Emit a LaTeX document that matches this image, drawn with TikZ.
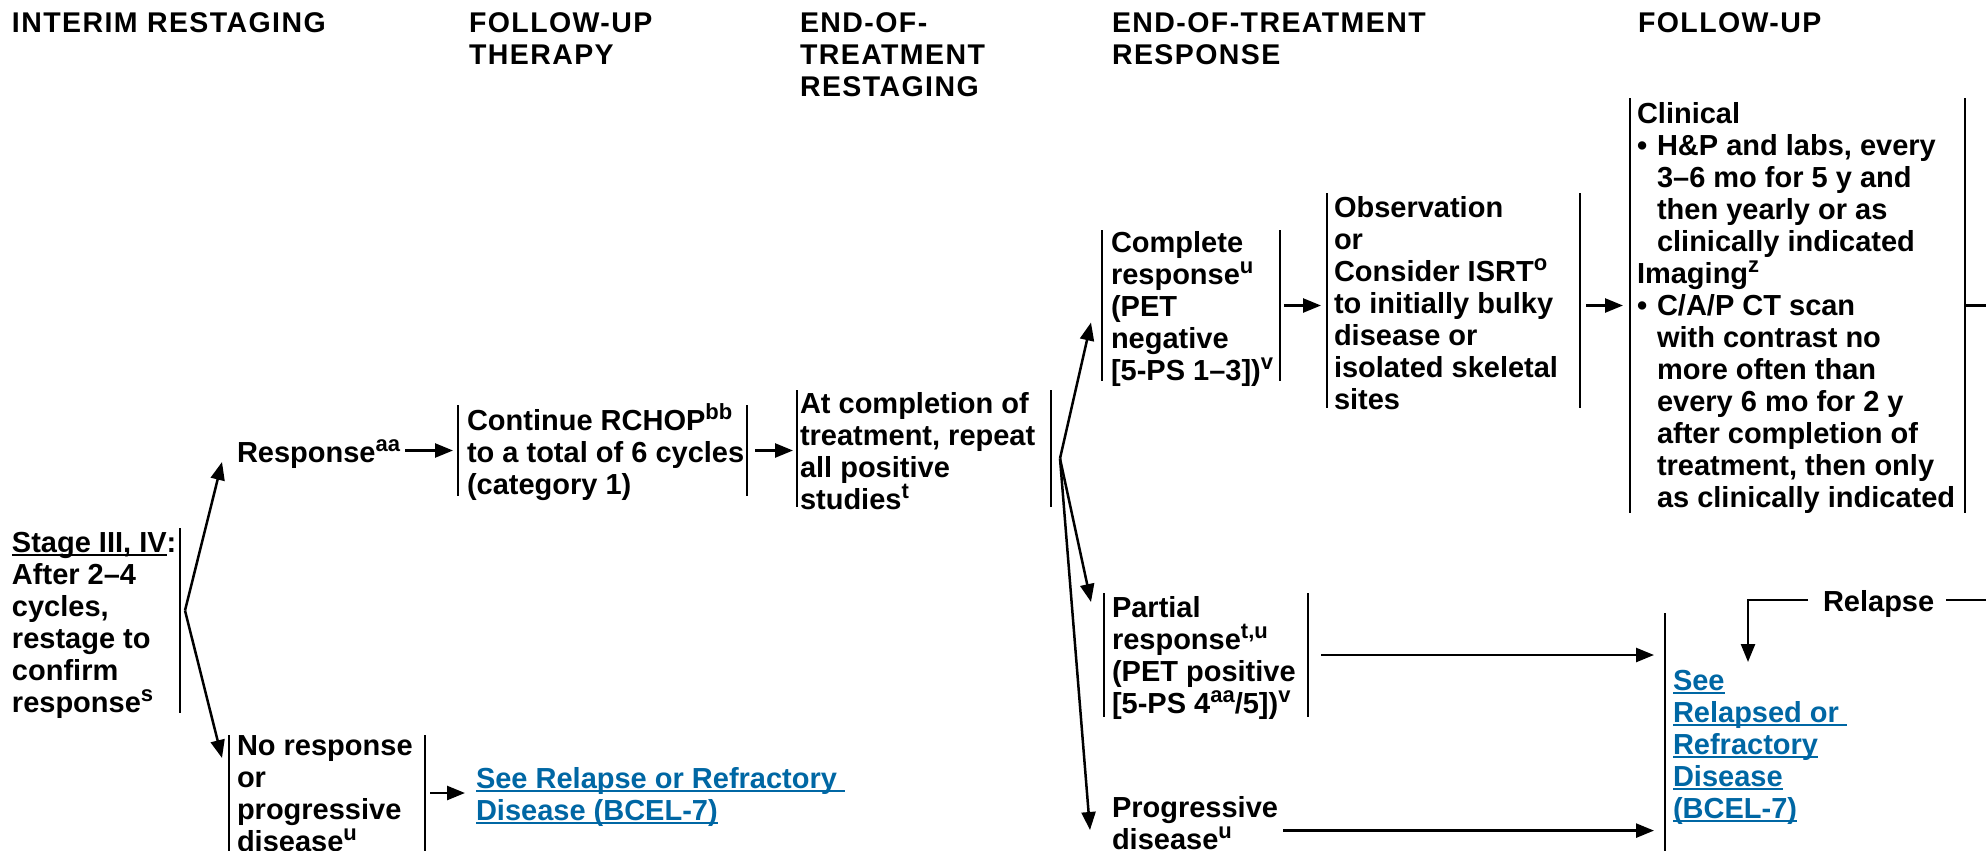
\documentclass[tikz,border=0pt]{standalone}
\usepackage{fontspec}
\setmainfont{Liberation Sans}
\newfontfamily\hdrfamily[LetterSpace=5]{Liberation Sans}
\usetikzlibrary{arrows.meta}
\definecolor{linkblue}{RGB}{0,103,164}
\newcommand\bodyfont{\fontsize{29}{32}\selectfont\bfseries}
\newcommand\hdfont{\hdrfamily\fontsize{28.5}{32}\selectfont\bfseries}
\newcommand\sups[1]{\smash{\raisebox{11pt}{\fontsize{22}{22}\selectfont #1}}}
\newcommand\ulk[1]{\setbox0\hbox{#1}\rlap{\rule[-3.5pt]{\wd0}{2pt}}\box0}
\newcommand\lk[1]{\textcolor{linkblue}{\ulk{#1}}}
\newcommand\lines[1]{\begin{tabular}[t]{@{}l@{}}#1\end{tabular}}
\begin{document}
\begin{tikzpicture}[x=1pt,y=-1pt,
  txt/.style={anchor=base west, inner sep=0pt, outer sep=0pt, font=\bodyfont},
  hdr/.style={anchor=base west, inner sep=0pt, outer sep=0pt, font=\hdfont},
  brk/.style={anchor=north west, inner sep=0pt, outer sep=0pt, draw=none},
  barline/.style={line width=2.6pt},
  arr/.style={line width=2.5pt, -{Triangle[length=18pt,width=14pt]}},
  conn/.style={line width=2.5pt}]
\clip (0,0) rectangle (1986,851);
\fill[white] (0,0) rectangle (1986,851);

% headers
\node[hdr] (h1) at (12,33) {INTERIM RESTAGING};
\node[hdr] (h2) at (469,33) {\lines{FOLLOW-UP\\THERAPY}};
\node[hdr] (h3) at (800,33) {\lines{END-OF-\\TREATMENT\\RESTAGING}};
\node[hdr] (h4) at (1112,33) {\lines{END-OF-TREATMENT\\RESPONSE}};
\node[hdr] (h5) at (1638,33) {FOLLOW-UP};

% stage
\node[txt] (stagetxt) at (12,552) {\lines{\ulk{Stage III, IV}:\\After 2–4\\cycles,\\restage to\\confirm\\response\sups{s}}};
\node[brk, minimum width=168pt, minimum height=185pt] (stage) at (12,528) {};
\draw[barline] (stage.north east) -- (stage.south east);
\coordinate (sbr) at ([xshift=5pt,yshift=10pt]stage.east);

% response
\node[txt] (resp) at (237,462) {Response\sups{aa}};
\draw[arr] (sbr) -- ([xshift=-15pt]resp.base west);

% no response
\node[brk, minimum width=196pt, minimum height=116pt] (noresp) at (229,735) {};
\draw[barline] (noresp.north west) -- (noresp.south west) (noresp.north east) -- (noresp.south east);
\node[txt] (noresptxt) at (237,755) {\lines{No response\\or\\progressive\\disease\sups{u}}};
\draw[arr] (sbr) -- ([xshift=-7pt,yshift=-23pt]noresp.north west);
\node[txt] (nrlink) at (476,788) {\lines{\lk{See Relapse or Refractory }\\\lk{Disease (BCEL-7)}}};
\draw[arr] ([xshift=5pt]noresp.east) -- ([xshift=-11pt]nrlink.west |- noresp.east);

% RCHOP
\node[brk, minimum width=289pt, minimum height=91pt] (rchop) at (458,405) {};
\draw[barline] (rchop.north west) -- (rchop.south west) (rchop.north east) -- (rchop.south east);
\node[txt] (rchoptxt) at (467,430) {\lines{Continue RCHOP\sups{bb}\\to a total of 6 cycles\\(category 1)}};
\draw[arr] ([xshift=5pt]resp.east |- rchop.west) -- ([xshift=-5pt]rchop.west);

% at completion
\node[brk, minimum width=254pt, minimum height=117pt] (atcomp) at (797,390) {};
\draw[barline] (atcomp.north west) -- (atcomp.south west) (atcomp.north east) -- (atcomp.south east);
\node[txt] (atcomptxt) at (800,413) {\lines{At completion of\\treatment, repeat\\all positive\\studies\sups{t}}};
\draw[arr] ([xshift=8pt]rchop.east) -- ([xshift=-4pt]atcomp.west |- rchop.east);
\coordinate (abr) at ([xshift=9pt,yshift=-10pt]atcomp.east);

% complete response
\node[brk, minimum width=178pt, minimum height=151pt] (complete) at (1102,230) {};
\draw[barline] (complete.north west) -- (complete.south west) (complete.north east) -- (complete.south east);
\node[txt] (completetxt) at (1111,252) {\lines{Complete\\response\sups{u}\\(PET\\negative\\{}[5-PS 1–3])\sups{v}}};
\draw[arr] (abr) -- ([xshift=-11pt,yshift=-17pt]complete.west);

% observation
\node[brk, minimum width=253pt, minimum height=215pt] (obs) at (1327,193) {};
\draw[barline] (obs.north west) -- (obs.south west) (obs.north east) -- (obs.south east);
\node[txt] (obstxt) at (1334,217) {\lines{Observation\\or\\Consider ISRT\sups{o}\\to initially bulky\\disease or\\isolated skeletal\\sites}};
\draw[arr] ([xshift=4pt]complete.east) -- ([xshift=-6pt]obs.west |- complete.east);

% clinical follow-up
\node[brk, minimum width=335pt, minimum height=415pt] (clin) at (1630,98) {};
\draw[barline] (clin.north west) -- (clin.south west) (clin.north east) -- (clin.south east);
\node[txt] (clintxt) at (1637,123) {\lines{Clinical\\
\makebox[20pt][l]{•}H\&P and labs, every\\
\hspace*{20pt}3–6 mo for 5 y and\\
\hspace*{20pt}then yearly or as\\
\hspace*{20pt}clinically indicated\\
Imaging\sups{z}\\
\makebox[20pt][l]{•}C/A/P CT scan\\
\hspace*{20pt}with contrast no\\
\hspace*{20pt}more often than\\
\hspace*{20pt}every 6 mo for 2 y\\
\hspace*{20pt}after completion of\\
\hspace*{20pt}treatment, then only\\
\hspace*{20pt}as clinically indicated}};
\draw[arr] ([xshift=6pt]obs.east |- clin.west) -- ([xshift=-7pt]clin.west);
\coordinate (exitA) at (1990,305);
\draw[conn] (clin.east) -- (clin.east -| exitA);

% partial response
\node[brk, minimum width=204pt, minimum height=124pt] (partial) at (1104,593) {};
\draw[barline] (partial.north west) -- (partial.south west) (partial.north east) -- (partial.south east);
\node[txt] (partialtxt) at (1112,617) {\lines{Partial\\response\sups{t,u}\\(PET positive\\{}[5-PS 4\sups{aa}/5])\sups{v}}};
\draw[arr] (abr) -- ([xshift=-13pt,yshift=-9pt]partial.north west);

% progressive disease
\node[txt] (prog) at (1112,817) {\lines{Progressive\\disease\sups{u}}};
\draw[arr] (abr) -- ([xshift=-22pt,yshift=-13pt]prog.base west);

% see relapsed
\node[brk, minimum width=200pt, minimum height=238pt] (seerel) at (1665,613) {};
\draw[barline] (seerel.north west) -- (seerel.south west);
\node[txt] (seereltxt) at (1673,690) {\lines{\lk{See}\\\lk{Relapsed or }\\\lk{Refractory}\\\lk{Disease}\\\lk{(BCEL-7)}}};
\draw[arr] ([xshift=13pt]partial.east) -- ([xshift=-11pt]seerel.west |- partial.east);
\coordinate (pe) at ([xshift=5pt,yshift=-4pt]prog.east);
\draw[arr] (pe) -- ([xshift=-11pt]seerel.west |- pe);

% relapse loop
\node[txt] (relapse) at (1823,611) {Relapse};
\coordinate (exitB) at (1990,600);
\draw[conn] (exitB) -- ([xshift=12pt]relapse.east |- exitB);
\draw[arr] ([xshift=-15pt]relapse.west |- exitB) -| ([xshift=83pt,yshift=-49pt]seerel.north west);
\end{tikzpicture}
\end{document}
